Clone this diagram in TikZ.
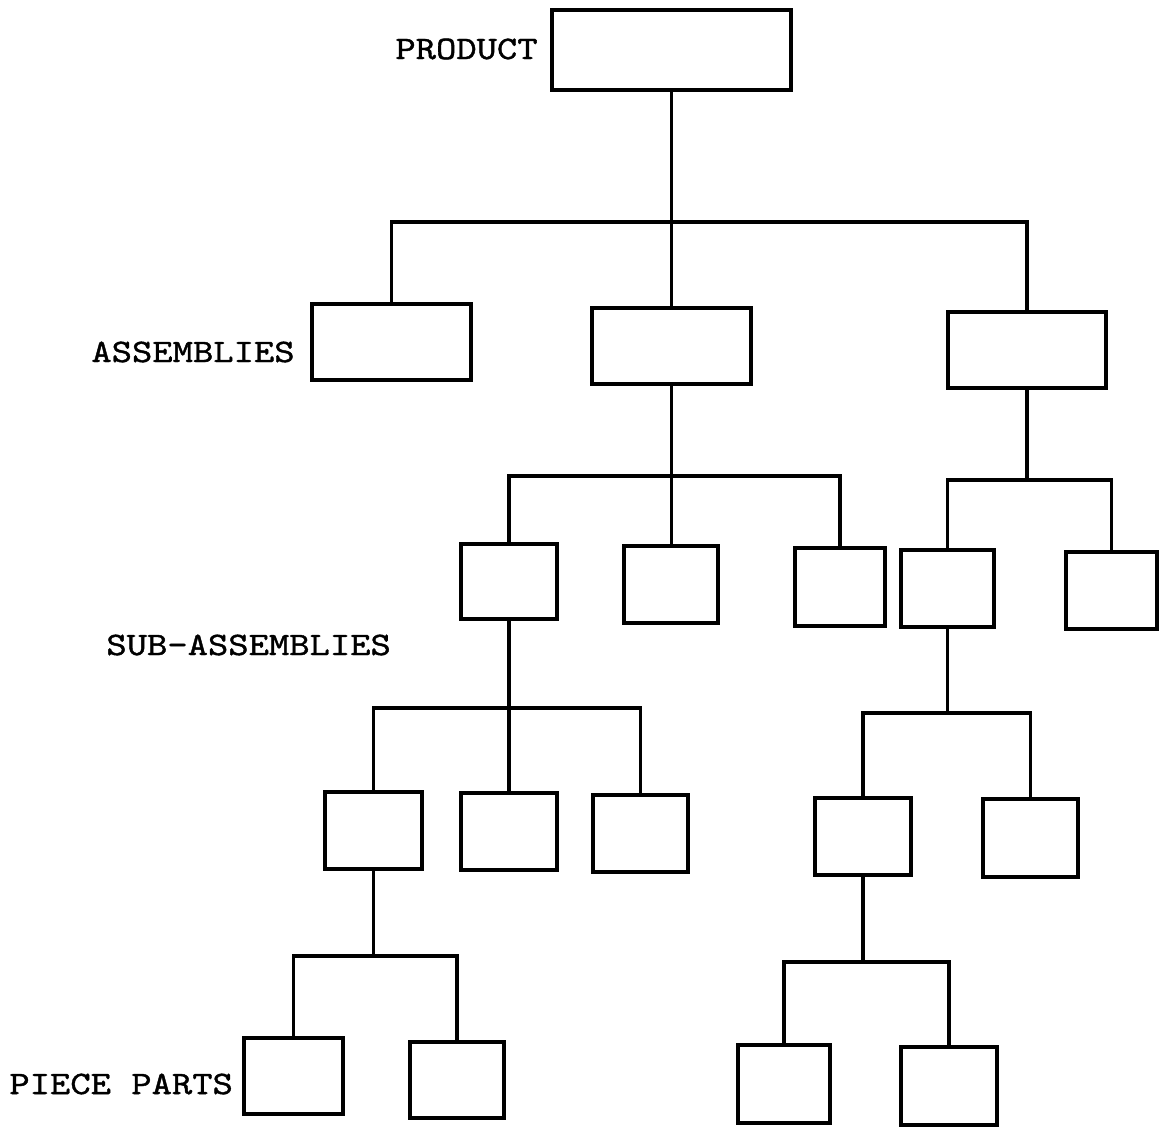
\documentclass[tikz,border=0pt]{standalone}
\usepackage{fontspec}
% serif typewriter face for the level labels
\newfontfamily\lblfont{lmmono10-regular}[Extension=.otf, FakeStretch=1.18, FakeBold=1.2]
\usetikzlibrary{fit}
\begin{document}
\begin{tikzpicture}[x=0.5pt,y=-0.5pt,
  box/.style={draw, line width=1.8pt, rectangle, inner sep=0pt},
  link/.style={line width=1.8pt, line cap=rect},
  lbl/.style={inner sep=0pt, anchor=west, font=\lblfont\fontsize{16.4}{20}\selectfont}]
% page
\fill[white] (0,0) rectangle (1159,1128);
\useasboundingbox (0,0) rectangle (1159,1128);

% boxes: product, assemblies, sub-assemblies, piece parts
\node[box, fit={(552,10) (791,90)}] (prod) {};
\node[box, fit={(312,304) (471,380)}] (a1) {};
\node[box, fit={(592,308) (751,384)}] (a2) {};
\node[box, fit={(948,312) (1106,388)}] (a3) {};
\node[box, fit={(461,544) (557,619)}] (s1) {};
\node[box, fit={(624,546) (718,623)}] (s2) {};
\node[box, fit={(795,548) (885,626)}] (s3) {};
\node[box, fit={(901,550) (994,627)}] (s4) {};
\node[box, fit={(1066,552) (1157,629)}] (s5) {};
\node[box, fit={(325,792) (422,869)}] (t1) {};
\node[box, fit={(461,793) (557,870)}] (t2) {};
\node[box, fit={(593,795) (688,872)}] (t3) {};
\node[box, fit={(815,798) (911,875)}] (t4) {};
\node[box, fit={(983,799) (1078,877)}] (t5) {};
\node[box, fit={(244,1038) (343,1114)}] (p1) {};
\node[box, fit={(410,1042) (504,1118)}] (p2) {};
\node[box, fit={(738,1045) (830,1123)}] (p3) {};
\node[box, fit={(901,1047) (997,1125)}] (p4) {};

% level labels
\node[lbl] (lprod) at (395,49) {PRODUCT};
\node[lbl] (lasm) at (91,352) {ASSEMBLIES};
\node[lbl] (lsub) at (106,645) {SUB-ASSEMBLIES};
\node[lbl] (lpart) at (9,1084) {PIECE PARTS};

% bar heights
\coordinate (b0) at (0,222);
\coordinate (b1) at (0,476);
\coordinate (b2) at (0,480);
\coordinate (b3) at (0,708);
\coordinate (b4) at (0,713);
\coordinate (b5) at (0,956);
\coordinate (b6) at (0,962);

% product -> assemblies
\draw[link] (prod.south) -- (prod.south |- a2.north);
\draw[link] (a1.north) |- (a3.north |- b0) -- (a3.north);

% assembly 2 -> sub-assemblies
\draw[link] (a2.south) -- (a2.south |- s2.north);
\draw[link] (s1.north) |- (s3.north |- b1) -- (s3.north);

% assembly 3 -> sub-assemblies
\draw[link] (a3.south) -- (a3.south |- b2);
\draw[link] (s4.north) |- (s5.north |- b2) -- (s5.north);

% sub-assembly 1 -> lower level
\draw[link] (s1.south) -- (s1.south |- t2.north);
\draw[link] (t1.north) |- (t3.north |- b3) -- (t3.north);

% sub-assembly 4 -> lower level
\draw[link] (s4.south) -- (s4.south |- b4);
\draw[link] (t4.north) |- (t5.north |- b4) -- (t5.north);

% piece parts
\draw[link] (t1.south) -- (t1.south |- b5);
\draw[link] (p1.north) |- (p2.north |- b5) -- (p2.north);
\draw[link] (t4.south) -- (t4.south |- b6);
\draw[link] (p3.north) |- (p4.north |- b6) -- (p4.north);
\end{tikzpicture}
\end{document}
